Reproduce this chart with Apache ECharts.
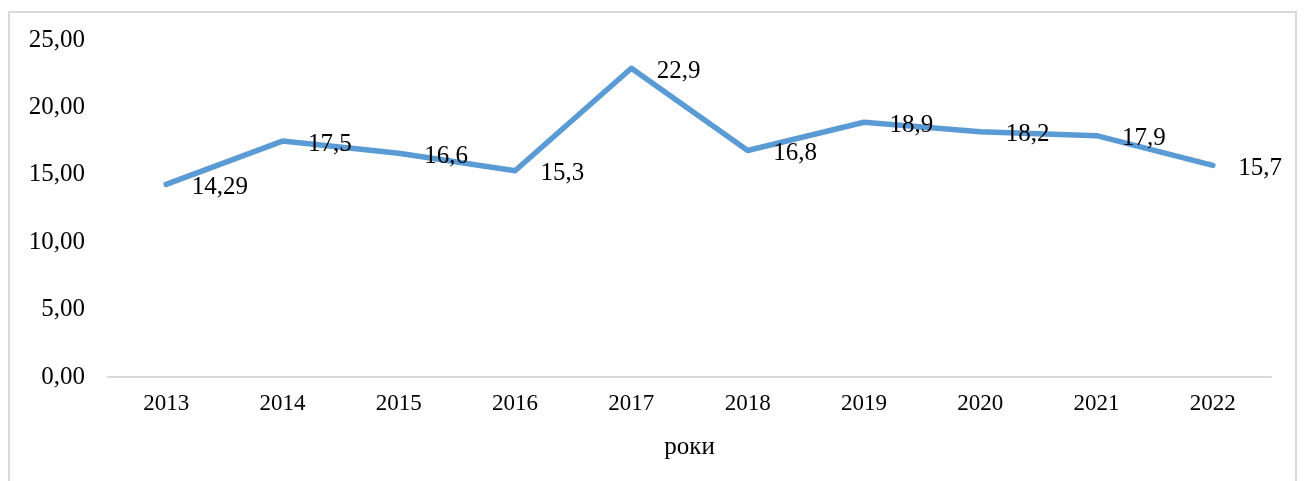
<!DOCTYPE html>
<html>
<head>
<meta charset="utf-8">
<script src="https://cdn.jsdelivr.net/npm/echarts@6/dist/echarts.min.js"></script>
<style>
html,body{margin:0;padding:0;background:#fff;}
#frame{position:absolute;left:8px;top:11px;width:1289px;height:480px;border:2px solid #d9d9d9;border-bottom:none;box-sizing:border-box;}
#chart{position:absolute;left:0;top:0;width:1307px;height:481px;}
</style>
</head>
<body>
<div id="frame"></div>
<div id="chart"></div>
<script>
const categories = ['2013','2014','2015','2016','2017','2018','2019','2020','2021','2022'];
const values = [14.29, 17.5, 16.6, 15.3, 22.9, 16.8, 18.9, 18.2, 17.9, 15.7];
const labelTexts = ['14,29','17,5','16,6','15,3','22,9','16,8','18,9','18,2','17,9','15,7'];
const axisName = 'роки';

const font = '"Liberation Serif", "Times New Roman", serif';
const chart = echarts.init(document.getElementById('chart'), null, {renderer:'canvas'});
chart.setOption({
  animation:false,
  backgroundColor:'transparent',
  grid:{left:108,right:36,top:40,bottom:104,containLabel:false},
  xAxis:{
    type:'category',
    data:categories,
    boundaryGap:true,
    axisLine:{lineStyle:{color:'#d9d9d9',width:2}},
    axisTick:{show:false},
    axisLabel:{color:'#000',fontFamily:font,fontSize:23,margin:15},
    name:axisName,
    nameLocation:'middle',
    nameGap:58,
    nameTextStyle:{color:'#000',fontFamily:font,fontSize:25}
  },
  yAxis:{
    type:'value',
    min:0,max:25,interval:5,
    axisLine:{show:false},
    axisTick:{show:false},
    splitLine:{show:false},
    axisLabel:{color:'#000',fontFamily:font,fontSize:25,margin:23,
      formatter:v=>v.toFixed(2).replace('.',',')}
  },
  series:[{
    type:'line',
    data:values,
    symbol:'circle',
    symbolSize:1,
    showSymbol:true,
    lineStyle:{color:'#5b9bd5',width:5.5,cap:'round',join:'round'},
    itemStyle:{color:'#5b9bd5'},
    label:{
      show:true,position:'right',distance:25,
      color:'#000',fontFamily:font,fontSize:25,
      offset:[0,3],
      formatter:p=>labelTexts[p.dataIndex]
    }
  }]
});
</script>
</body>
</html>
